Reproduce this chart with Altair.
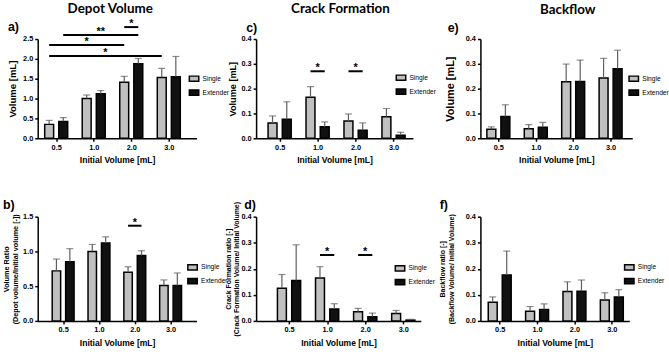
import altair as alt
import pandas as pd

groups = ["0.5", "1.0", "2.0", "3.0"]
series = ["Single", "Extender"]
fill_colors = ["#c0c0c0", "#111111"]

# a) Depot volume [mL]
a_single = [0.35, 1.00, 1.41, 1.53]
a_single_sd = [0.10, 0.09, 0.15, 0.23]
a_ext = [0.42, 1.12, 1.88, 1.55]
a_ext_sd = [0.10, 0.08, 0.13, 0.51]
# b) Volume ratio [-]
b_single = [0.72, 1.00, 0.70, 0.51]
b_single_sd = [0.17, 0.10, 0.08, 0.08]
b_ext = [0.85, 1.12, 0.94, 0.51]
b_ext_sd = [0.19, 0.09, 0.07, 0.18]
# c) Crack formation [mL]
c_single = [0.062, 0.165, 0.070, 0.087]
c_single_sd = [0.028, 0.043, 0.028, 0.033]
c_ext = [0.077, 0.046, 0.032, 0.012]
c_ext_sd = [0.070, 0.020, 0.030, 0.012]
# d) Crack formation ratio [-]
d_single = [0.125, 0.165, 0.035, 0.028]
d_single_sd = [0.053, 0.043, 0.013, 0.012]
d_ext = [0.155, 0.046, 0.016, 0.003]
d_ext_sd = [0.137, 0.020, 0.014, 0.003]
# e) Backflow [mL]
e_single = [0.036, 0.038, 0.228, 0.243]
e_single_sd = [0.010, 0.017, 0.071, 0.079]
e_ext = [0.088, 0.044, 0.229, 0.280]
e_ext_sd = [0.047, 0.020, 0.086, 0.075]
# f) Backflow ratio [-]
f_single = [0.072, 0.037, 0.113, 0.080]
f_single_sd = [0.020, 0.018, 0.037, 0.028]
f_ext = [0.176, 0.044, 0.114, 0.092]
f_ext_sd = [0.092, 0.021, 0.043, 0.028]

# significance brackets: (start group, start series, end group, end series, level, label)
a_sig = [("2.0", "Single", "2.0", "Extender", 2.80, "*"),
         ("0.5", "Extender", "2.0", "Extender", 2.60, "**"),
         ("0.5", "Single", "2.0", "Single", 2.35, "*"),
         ("0.5", "Single", "3.0", "Single", 2.07, "*")]
b_sig = [("2.0", "Single", "2.0", "Extender", 1.37, "*")]
c_sig = [("1.0", "Single", "1.0", "Extender", 0.27, "*"),
         ("2.0", "Single", "2.0", "Extender", 0.27, "*")]
d_sig = [("1.0", "Single", "1.0", "Extender", 0.253, "*"),
         ("2.0", "Single", "2.0", "Extender", 0.253, "*")]

OFFSET = {"Single": -0.1875, "Extender": 0.1875}
FONT = "Liberation Sans"
ERR = "#5e5e5e"
LABEL_EXPR = "[" + ",".join("'%s'" % g for g in groups) + "][datum.value]"
LEGEND_SYMBOL = "M-1,-0.55L1,-0.55L1,0.55L-1,0.55Z"


def pos(g, s):
    return groups.index(g) + OFFSET[s]


def bar_table(single, single_sd, ext, ext_sd):
    rows = []
    for i, g in enumerate(groups):
        for s, vals, sds in (("Single", single, single_sd), ("Extender", ext, ext_sd)):
            rows.append({"group": g, "series": s, "pos": pos(g, s),
                         "value": vals[i], "upper": vals[i] + sds[i]})
    return pd.DataFrame(rows)


def sig_table(sig):
    rows = []
    for g1, s1, g2, s2, lvl, lab in sig:
        p1, p2 = pos(g1, s1), pos(g2, s2)
        rows.append({"x1": p1, "x2": p2, "xm": (p1 + p2) / 2, "level": lvl, "label": lab})
    return pd.DataFrame(rows)


def panel(vals, sig, letter, letter_xy, ytitle, ytitle_size, ytitle_pad, ydomain, yvalues,
          xdomain, width, height, legend_xy, title=None, bar_size=9):
    df = bar_table(*vals)
    xs = alt.Scale(domain=xdomain, nice=False, zero=False)
    ys = alt.Scale(domain=ydomain, nice=False)
    xaxis = alt.Axis(values=list(range(len(groups))), labelExpr=LABEL_EXPR,
                     title="Initial Volume [mL]", titleFontSize=8.6, titlePadding=5,
                     labelPadding=2, labelFlush=False, labelOverlap=False)
    yaxis = alt.Axis(values=yvalues, format=".1f", title=ytitle, titleFontSize=ytitle_size,
                     titlePadding=ytitle_pad, labelPadding=2, labelOverlap=False,
                     labelBound=False, labelFlush=False, titleLineHeight=ytitle_size + 2)
    base = alt.Chart(df)
    bars = base.mark_bar(size=bar_size, stroke="black", strokeWidth=1.5, orient="vertical").encode(
        x=alt.X("pos:Q", scale=xs, axis=xaxis),
        y=alt.Y("value:Q", scale=ys, axis=yaxis),
        y2=alt.datum(0),
        fill=alt.Fill("series:N", scale=alt.Scale(domain=series, range=fill_colors),
                      legend=alt.Legend(orient="none", legendX=legend_xy[0], legendY=legend_xy[1],
                                        title=None, symbolType=LEGEND_SYMBOL, symbolSize=90,
                                        symbolStrokeColor="black", symbolStrokeWidth=1.5,
                                        labelFont=FONT, labelFontSize=6.7, labelColor="black",
                                        labelOffset=3, rowPadding=1, padding=0)),
    )
    err = base.mark_rule(color=ERR, strokeWidth=1.2).encode(
        x=alt.X("pos:Q", axis=xaxis), y=alt.Y("value:Q", axis=yaxis), y2="upper:Q")
    caps = base.mark_tick(orient="horizontal", size=7, thickness=1.2, color=ERR).encode(
        x=alt.X("pos:Q", axis=xaxis), y=alt.Y("upper:Q", axis=yaxis))
    layers = [bars, err, caps]
    if sig:
        sdf = sig_table(sig)
        sbase = alt.Chart(sdf)
        layers.append(sbase.mark_rule(color="black", strokeWidth=2).encode(
            x=alt.X("x1:Q", axis=xaxis), x2="x2:Q", y=alt.Y("level:Q", axis=yaxis)))
        layers.append(sbase.mark_text(font=FONT, fontWeight="bold", fontSize=11,
                                      baseline="alphabetic", color="black").encode(
            x=alt.X("xm:Q", axis=xaxis), y=alt.Y("level:Q", axis=yaxis), text="label:N"))
    layers.append(alt.Chart(pd.DataFrame({"t": [letter]})).mark_text(
        font=FONT, fontWeight="bold", fontSize=12.5, align="left", baseline="middle",
        color="black").encode(text="t:N", x=alt.value(letter_xy[0]), y=alt.value(letter_xy[1])))
    props = dict(width=width, height=height)
    if title is not None:
        props["title"] = alt.TitleParams(title[0], font="Lato", fontSize=13.5, fontWeight="bold",
                                         color="black", anchor="middle", dx=title[1], offset=title[2])
    return alt.layer(*layers).properties(**props)


vol_ticks = [0.0, 0.5, 1.0, 1.5, 2.0, 2.5]
small_ticks = [0.0, 0.1, 0.2, 0.3, 0.4]
ratio_ticks = [0.0, 0.5, 1.0, 1.5]

pa = panel((a_single, a_single_sd, a_ext, a_ext_sd), a_sig, "a)", (-30, -12.5),
           "Volume [mL]", 9.6, 5, [0, 2.5], vol_ticks, [-0.36, 3.607], 160, 100, (152, 34.5),
           title=("Depot Volume", -7, 3))
pc = panel((c_single, c_single_sd, c_ext, c_ext_sd), c_sig, "c)", (-10, -11.5),
           "Volume [mL]", 9.2, 3, [0, 0.4], small_ticks, [-0.49, 3.38], 158, 100, (140.5, 33.5),
           title=("Crack Formation", 6, 6))
pe = panel((e_single, e_single_sd, e_ext, e_ext_sd), [], "e)", (-33, -11),
           "Volume [mL]", 11, 10, [0, 0.4], small_ticks, [-0.347, 3.447], 153, 100, (149, 34.5),
           title=("Backflow", 11.5, 6))
pb = panel((b_single, b_single_sd, b_ext, b_ext_sd), b_sig, "b)", (-35, -12),
           ["Volume Ratio", "(Depot volume/Initial volume [-])"], 7.3, 3, [0, 1.5], ratio_ticks,
           [-0.571, 3.585], 160, 105, (150.5, 45.5), bar_size=8.5)
pd_ = panel((d_single, d_single_sd, d_ext, d_ext_sd), d_sig, "d)", (-12, -12),
            ["Crack Formation ratio [-]", "(Crack Formation Volume/ Initial Volume)"], 7, 1,
            [0, 0.4], small_ticks, [-0.735, 3.331], 166, 105, (139.5, 46.5))
pf = panel((f_single, f_single_sd, f_ext, f_ext_sd), [], "f)", (-41, -12),
           ["Backflow ratio [-]", "(Backflow Volume/ Initial Volume)"], 7, 11,
           [0, 0.4], small_ticks, [-0.384, 3.335], 150, 105, (144.5, 45.5))

chart = alt.concat(
    pa, pc, pe, pb, pd_, pf, columns=3, bounds="flush",
    align={"row": "each", "column": "none"},
    spacing={"row": 79, "column": 60},
).resolve_scale(fill="independent", x="independent", y="independent").properties(
    padding={"left": 2, "top": 0, "right": 0, "bottom": 0}
).configure_view(stroke=None).configure_axis(
    grid=False, labelFont=FONT, labelFontWeight="bold", labelFontSize=7.4, labelColor="black",
    titleFont=FONT, titleFontWeight="bold", titleColor="black", labelOverlap=False,
    domainColor="black", domainWidth=1.5, tickColor="black", tickWidth=1.5, tickSize=3,
)

chart.save("out.html", embed_options={"renderer": "svg", "actions": False})
